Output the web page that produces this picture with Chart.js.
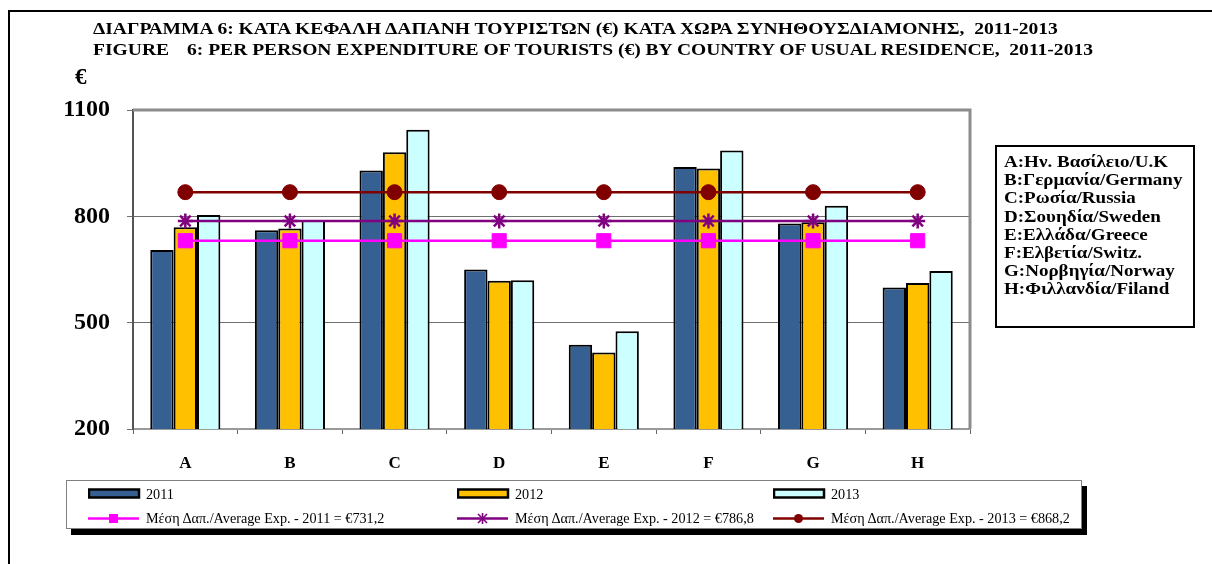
<!DOCTYPE html>
<html>
<head>
<meta charset="utf-8">
<script src="https://cdn.jsdelivr.net/npm/chart.js@4.4.1/dist/chart.umd.min.js"></script>
<style>
  html, body { margin: 0; padding: 0; background: #fff; }
  body { width: 1212px; height: 564px; position: relative; overflow: hidden; font-family: "Liberation Serif", "Times New Roman", serif; }
  #wrap { position: absolute; left: 0; top: 0; width: 1212px; height: 564px; }
  #frame { position: absolute; left: 8px; top: 10px; width: 1220px; height: 600px; border-top: 2px solid #000; border-left: 2px solid #000; }
  .title { position: absolute; font-weight: bold; font-size: 17px; line-height: 20px; white-space: pre; color: #000; transform: scaleX(1.15); transform-origin: 0 0; }
  #euro { position: absolute; left: 75px; top: 64px; font-weight: bold; font-size: 23px; }
  #countries { position: absolute; left: 995px; top: 145px; width: 196px; height: 179px; border: 2px solid #000; background: #fff; padding: 0; }
  #countries div { position: absolute; left: 7px; font-weight: bold; font-size: 17px; line-height: 18px; white-space: nowrap; transform: scaleX(1.12); transform-origin: 0 0; }
  #legend { position: absolute; left: 66px; top: 480px; width: 1014px; height: 47px; border: 1px solid #808080; background: #fff; box-shadow: 5px 6px 0 #000; }
  .item { position: absolute; height: 20px; display: flex; align-items: center; font-size: 14.2px; white-space: nowrap; }
  .item svg { margin-right: 4px; }
</style>
</head>
<body>
<div id="wrap"><canvas id="c" width="1212" height="564"></canvas></div>
<div id="frame"></div>
<div class="title" style="left:93px; top:19px;">ΔΙΑΓΡΑΜΜΑ 6: ΚΑΤΑ ΚΕΦΑΛΗ ΔΑΠΑΝΗ ΤΟΥΡΙΣΤΩΝ (€) ΚΑΤΑ ΧΩΡΑ ΣΥΝΗΘΟΥΣΔΙΑΜΟΝΗΣ,  2011-2013</div>
<div class="title" style="left:93px; top:40px;">FIGURE</div>
<div class="title" style="left:187px; top:40px;">6: PER PERSON EXPENDITURE OF TOURISTS (€) BY COUNTRY OF USUAL RESIDENCE,  2011-2013</div>
<div id="euro">€</div>
<div id="countries"></div>
<div id="legend"></div>
<script>
// ---- data ----
const categories = ['A', 'B', 'C', 'D', 'E', 'F', 'G', 'H'];
const countryNames = ['A:Ην. Βασίλειο/U.K', 'B:Γερμανία/Germany', 'C:Ρωσία/Russia', 'D:Σουηδία/Sweden', 'E:Ελλάδα/Greece', 'F:Ελβετία/Switz.', 'G:Νορβηγία/Norway', 'H:Φιλλανδία/Filand'];
const years = ['2011', '2012', '2013'];
const exp2011 = [705, 761, 929, 650, 438, 939, 780, 599];
const exp2012 = [769, 766, 981, 618, 416, 935, 783, 612];
const exp2013 = [804, 790, 1044, 620, 476, 986, 830, 646];
const averages = [731.2, 786.8, 868.2];
const yTicks = [200, 500, 800, 1100];

const barColors = ['#376092', '#FFC000', '#CCFFFF'];
const lineColors = ['#FF00FF', '#800080', '#800000'];
const pointStyles = ['rect', 'star', 'circle'];
const pointRadii = [10, 7.5, 7.5];

const fmt = v => v.toFixed(1).replace('.', ',');
const avgLabels = years.map((y, i) => 'Μέση Δαπ./Average Exp. - ' + y + ' = €' + fmt(averages[i]));

Chart.defaults.font.family = '"Liberation Serif", "Times New Roman", serif';
Chart.defaults.color = '#000';

const barSeries = [exp2011, exp2012, exp2013];
const datasets = [];
averages.forEach((a, i) => {
  datasets.push({
    type: 'line', label: avgLabels[i], data: categories.map(() => a), order: 0,
    borderColor: lineColors[i], backgroundColor: lineColors[i], borderWidth: 2.5,
    pointStyle: pointStyles[i], pointRadius: pointRadii[i], pointBorderWidth: i === 1 ? 2.5 : 1,
    pointBorderColor: lineColors[i], pointBackgroundColor: lineColors[i], fill: false, tension: 0
  });
});
barSeries.forEach((s, i) => {
  datasets.push({
    type: 'bar', label: years[i], data: s, order: 1,
    backgroundColor: barColors[i], borderColor: '#000', borderWidth: 2,
    categoryPercentage: 0.67, barPercentage: 1.0
  });
});

const frameBorder = {
  id: 'frameBorder',
  afterDraw(chart) {
    const a = chart.chartArea, ctx = chart.ctx;
    ctx.save();
    ctx.strokeStyle = '#8c8c8c';
    ctx.lineWidth = 3;
    ctx.beginPath();
    ctx.moveTo(a.left, a.top);
    ctx.lineTo(a.right, a.top);
    ctx.lineTo(a.right, a.bottom);
    ctx.stroke();
    ctx.restore();
  }
};

new Chart(document.getElementById('c'), {
  data: { labels: categories, datasets },
  options: {
    responsive: false, animation: false, devicePixelRatio: 1,
    layout: { padding: { left: 0, top: 110, right: 242, bottom: 85 } },
    plugins: { legend: { display: false }, tooltip: { enabled: false }, title: { display: false } },
    scales: {
      x: {
        afterFit: s => { s.height = 50; },
        grid: { offset: true, drawOnChartArea: false, tickLength: 5, color: '#666', lineWidth: 1 },
        border: { color: '#999', width: 2 },
        ticks: { font: { size: 17, weight: 'bold' }, padding: 19, color: '#000' }
      },
      y: {
        min: 200, max: 1100,
        afterFit: s => { s.width = 133; },
        afterBuildTicks: s => { s.ticks = yTicks.map(v => ({ value: v })); },
        grid: { color: '#707070', lineWidth: 1, tickLength: 6 },
        border: { color: '#555', width: 2 },
        ticks: { font: { size: 24, weight: 'bold' }, padding: 17, color: '#000', callback: v => String(v) }
      }
    }
  },
  plugins: [frameBorder]
});

// ---- country legend box ----
const cbox = document.getElementById('countries');
countryNames.forEach((n, i) => {
  const d = document.createElement('div');
  d.textContent = n;
  d.style.top = (6 + i * 18.2) + 'px';
  cbox.appendChild(d);
});

// ---- bottom legend ----
const leg = document.getElementById('legend');
const colX = [21, 390, 706];
const rowY = [3, 27];
function barIcon(c) {
  return '<svg width="54" height="12"><rect x="1" y="1.5" width="50" height="8" fill="' + c + '" stroke="#000" stroke-width="2.5"/></svg>';
}
function lineIcon(i) {
  const c = lineColors[i];
  let m = '';
  if (i === 0) m = '<rect x="21" y="2" width="9" height="9" fill="' + c + '"/>';
  if (i === 1) m = '<g stroke="' + c + '" stroke-width="1.6"><line x1="21" y1="2" x2="30" y2="11"/><line x1="21" y1="11" x2="30" y2="2"/><line x1="25.5" y1="1" x2="25.5" y2="12"/></g>';
  if (i === 2) m = '<circle cx="25.5" cy="6.5" r="4.5" fill="' + c + '"/>';
  return '<svg width="54" height="13"><line x1="0" y1="6.5" x2="51" y2="6.5" stroke="' + c + '" stroke-width="2.5"/>' + m + '</svg>';
}
years.forEach((y, i) => {
  const d = document.createElement('div');
  d.className = 'item';
  d.style.left = colX[i] + 'px'; d.style.top = rowY[0] + 'px';
  d.innerHTML = barIcon(barColors[i]) + '<span>' + y + '</span>';
  leg.appendChild(d);
  const e = document.createElement('div');
  e.className = 'item';
  e.style.left = colX[i] + 'px'; e.style.top = rowY[1] + 'px';
  e.innerHTML = lineIcon(i) + '<span>' + avgLabels[i] + '</span>';
  leg.appendChild(e);
});
</script>
</body>
</html>
